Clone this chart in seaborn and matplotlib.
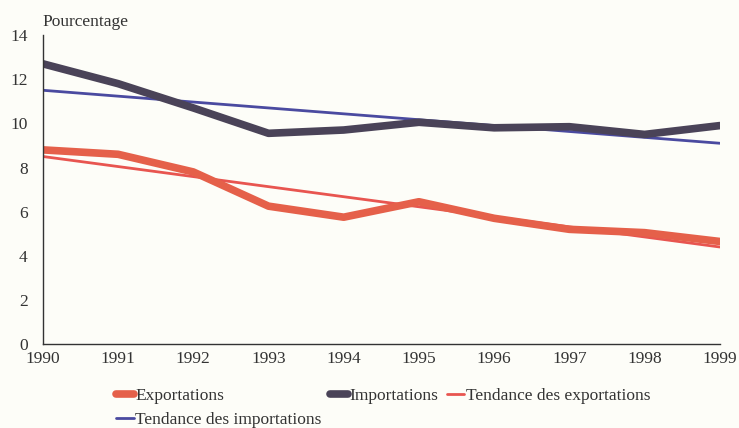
import matplotlib
matplotlib.use("Agg")
import matplotlib.pyplot as plt
import seaborn as sns
import pandas as pd

years = [1990, 1991, 1992, 1993, 1994, 1995, 1996, 1997, 1998, 1999]
exportations = [8.8, 8.6, 7.8, 6.25, 5.75, 6.45, 5.7, 5.2, 5.05, 4.65]
importations = [12.7, 11.8, 10.7, 9.55, 9.7, 10.05, 9.8, 9.85, 9.5, 9.9]
trend_years = [1990, 1999]
tendance_exportations = [8.5, 4.4]
tendance_importations = [11.5, 9.1]
y_ticks = [0, 2, 4, 6, 8, 10, 12, 14]

sns.set_theme(style="white")
plt.rcParams['font.family'] = ['Liberation Serif', 'DejaVu Serif']

bg = "#fdfdf8"
fs = 12.5
fig = plt.figure(figsize=(7.39, 4.28), dpi=100, facecolor=bg)
ax = fig.add_axes([0.058, 0.196, 0.916, 0.722], facecolor=bg)

df_main = pd.DataFrame({"year": years, "exp": exportations, "imp": importations})
df_tr = pd.DataFrame({"year": trend_years, "texp": tendance_exportations, "timp": tendance_importations})

c_exp = "#e5604a"
c_imp = "#4a4358"
c_texp = "#e85550"
c_timp = "#4a4aa0"

sns.lineplot(data=df_tr, x="year", y="timp", ax=ax, color=c_timp, linewidth=2.0,
             label="Tendance des importations")
sns.lineplot(data=df_tr, x="year", y="texp", ax=ax, color=c_texp, linewidth=2.0,
             label="Tendance des exportations")
sns.lineplot(data=df_main, x="year", y="imp", ax=ax, color=c_imp, linewidth=5.5,
             solid_capstyle="round", solid_joinstyle="round", label="Importations")
sns.lineplot(data=df_main, x="year", y="exp", ax=ax, color=c_exp, linewidth=5.5,
             solid_capstyle="round", solid_joinstyle="round", label="Exportations")

ax.set_xlim(1990, 1999)
ax.set_ylim(0, 14)
ax.set_yticks(y_ticks)
ax.set_xticks(years)
ax.set_xticklabels([str(y) for y in years])
ax.set_xlabel("")
ax.set_ylabel("")
for s in ["top", "right"]:
    ax.spines[s].set_visible(False)
for s in ["left", "bottom"]:
    ax.spines[s].set_color("#333333")
    ax.spines[s].set_linewidth(1.0)
ax.tick_params(axis="both", length=0, labelsize=fs, colors="#333333", pad=5)
ax.tick_params(axis="y", pad=11)

fig.text(0.058, 0.93, "Pourcentage", fontsize=fs, color="#333333", ha="left", va="bottom")

handles, labels = ax.get_legend_handles_labels()
hmap = dict(zip(labels, handles))
order = ["Exportations", "Tendance des importations", "Importations", "Tendance des exportations"]
leg = ax.legend([hmap[k] for k in order], order, ncol=3, loc="upper left",
                bbox_to_anchor=(0.098, -0.12), frameon=False, fontsize=fs,
                handlelength=1.0, handletextpad=0.1, columnspacing=0.5,
                labelspacing=0.45, borderaxespad=0)
for t in leg.get_texts():
    t.set_color("#333333")

fig.savefig("out.png", dpi=100, facecolor=bg)
